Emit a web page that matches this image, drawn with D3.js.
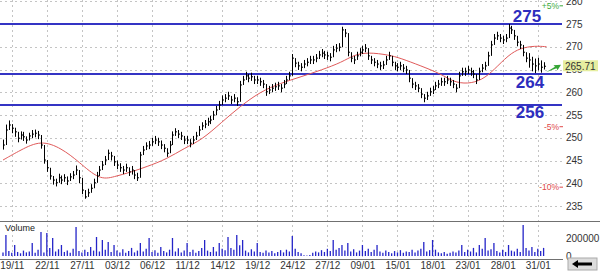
<!DOCTYPE html>
<html>
<head>
<meta charset="utf-8">
<script src="https://cdn.jsdelivr.net/npm/d3@7"></script>
<style>
  body { margin: 0; background: #fff; }
  svg { display: block; font-family: "Liberation Sans", Arial, sans-serif; }
</style>
</head>
<body>
<div id="chart"></div>
<script>
// tick labels under the gridlines
const dates = ["19/11","22/11","27/11","03/12","06/12","11/12","14/12","19/12",
               "24/12","27/12","09/01","15/01","18/01","23/01","28/01","31/01"];

// closing prices, one per bar (open = previous close)
const closes = [
  248.4,251.7,252.8,
  252.1,251.3,249.9,250.6,250.2,249.5,250.4,250.8,251.0,250.6,248.4,245.1,
  243.4,241.6,240.7,240.1,241.2,240.7,241.2,240.5,241.4,241.8,242.9,241.2,
  238.5,237.0,237.9,238.9,240.1,241.6,242.9,244.0,245.1,246.6,246.0,244.7,
  244.0,243.4,242.9,243.4,242.5,242.9,241.8,241.2,246.2,247.3,248.2,248.4,
  249.1,249.5,249.1,248.4,247.7,246.6,248.4,250.6,251.3,250.8,250.4,249.5,
  249.5,248.8,249.5,250.4,251.7,252.6,253.0,253.5,253.9,255.0,256.1,257.2,
  258.3,258.7,259.2,258.3,258.7,257.9,261.6,262.7,263.6,263.1,263.4,262.7,
  262.7,262.3,261.8,260.1,260.5,260.9,261.2,261.4,260.9,261.8,262.7,263.6,
  267.5,266.4,265.8,265.5,266.2,266.6,267.1,267.1,267.5,268.2,268.6,268.2,
  268.0,267.7,269.3,269.7,269.9,273.7,273.0,268.8,267.5,267.1,268.0,268.8,
  269.3,269.7,268.0,267.1,266.6,266.2,265.8,266.0,267.1,268.0,266.6,265.8,
  265.5,265.8,265.3,264.9,263.1,261.8,261.4,260.9,259.6,258.7,259.2,260.1,
  260.5,261.4,261.8,262.3,262.3,262.7,262.3,261.8,260.9,263.6,264.5,264.5,
  264.9,264.5,264.0,262.7,264.5,265.3,265.8,268.0,270.4,271.9,272.4,271.9,
  271.5,271.9,274.1,273.7,272.4,271.0,270.4,268.8,267.5,267.1,266.2,265.8,
  266.2,265.5,265.71
];
const highs = [
  249.6,252.9,253.8,
  253.0,252.2,250.8,251.4,251.3,250.3,251.1,251.7,251.8,251.5,249.9,246.8,
  244.5,242.8,241.6,241.0,242.1,241.7,242.0,241.5,242.2,242.7,243.9,242.2,
  239.8,238.2,238.8,239.8,241.0,242.5,243.8,244.9,246.0,247.4,246.9,245.7,
  245.0,244.4,243.8,244.3,243.5,243.8,242.8,242.3,246.9,248.2,249.0,249.3,
  250.0,250.4,250.0,249.4,248.6,247.6,249.3,251.4,252.1,251.7,251.3,250.4,
  250.4,249.7,250.4,251.3,252.6,253.4,253.9,254.4,254.8,255.9,257.0,258.1,
  259.3,259.6,260.1,259.2,259.6,258.9,262.5,263.6,264.5,264.0,264.3,263.6,
  263.6,263.2,262.7,261.0,261.4,261.8,262.1,262.3,261.8,262.7,263.6,264.5,
  268.4,267.3,266.7,266.4,267.1,267.5,268.0,268.0,268.4,269.1,269.5,269.1,
  268.9,268.6,270.2,270.6,270.8,274.4,273.9,269.7,268.4,268.0,268.9,269.7,
  270.2,270.6,268.9,268.0,267.5,267.1,266.7,266.9,268.0,268.9,267.5,266.7,
  266.4,266.7,266.2,265.8,264.0,262.7,262.3,261.8,260.5,259.6,260.1,261.0,
  261.4,262.3,262.7,263.2,263.2,263.6,263.2,262.7,261.8,264.5,265.4,265.4,
  265.8,265.4,264.9,263.6,265.4,266.2,266.7,268.9,271.3,272.8,273.3,272.8,
  272.4,272.8,275.0,274.6,273.3,271.9,271.3,269.7,268.4,268.6,267.8,267.4,
  267.6,267.0,266.6
];
const lows = [
  247.4,250.6,251.9,
  251.0,250.2,249.0,249.6,249.3,248.7,249.4,249.9,250.1,249.7,247.6,244.3,
  242.5,240.8,239.7,239.3,240.2,239.8,240.3,239.6,240.5,240.9,241.9,240.0,
  237.6,236.6,237.0,238.0,239.2,240.8,242.0,243.1,244.2,245.7,245.0,243.8,
  243.1,242.5,242.0,242.5,241.6,241.9,240.9,240.5,245.0,246.4,247.3,247.5,
  248.2,248.6,248.2,247.5,246.8,245.8,247.5,249.7,250.4,249.9,249.5,248.6,
  248.6,247.9,248.6,249.5,250.8,251.7,252.1,252.6,253.0,254.1,255.2,256.3,
  257.4,257.8,258.3,257.4,257.8,257.0,260.7,261.8,262.7,262.2,262.5,261.8,
  261.8,261.4,260.9,259.2,259.6,260.0,260.3,260.5,260.0,260.9,261.8,262.7,
  266.6,265.5,264.9,264.6,265.3,265.7,266.2,266.2,266.6,267.3,267.7,267.3,
  267.1,266.8,268.4,268.8,269.0,272.6,272.1,267.9,266.6,266.2,267.1,267.9,
  268.4,268.8,267.1,266.2,265.7,265.3,264.9,265.1,266.2,267.1,265.7,264.9,
  264.6,264.9,264.4,264.0,262.2,260.9,260.5,260.0,258.7,257.8,258.3,259.2,
  259.6,260.5,260.9,261.4,261.4,261.8,261.4,260.9,260.0,262.7,263.6,263.6,
  264.0,263.6,263.1,261.8,263.6,264.4,264.9,267.1,269.5,271.0,271.5,271.0,
  270.6,271.0,273.2,272.8,271.5,270.1,269.5,267.9,266.6,265.4,264.6,264.2,
  264.8,264.3,265.0
];

// volume per bar, in thousands
const volumes = [
  40,233,55,35,122,45,30,60,40,50,144,35,
  70,267,40,255,90,200,50,75,122,45,60,35,
  80,322,55,40,70,45,100,60,211,50,178,70,
  155,45,122,60,40,75,35,55,90,40,60,144,
  50,80,200,45,65,35,100,55,40,70,200,50,
  85,40,60,144,45,70,35,55,90,178,60,45,
  100,50,144,80,65,211,90,70,233,120,178,60,
  40,75,50,144,45,35,60,40,55,30,45,65,
  40,70,50,222,80,45,30,8,5,10,35,50,
  40,65,45,80,55,178,70,90,122,60,144,50,
  75,40,60,122,55,80,45,70,122,50,35,60,
  45,30,55,40,65,35,50,45,70,40,60,80,
  155,50,65,178,70,40,30,45,25,35,50,40,
  60,122,45,70,50,90,40,122,80,200,60,75,
  144,55,40,70,45,122,60,50,80,45,344,90,
  60,100,45,80,55,90
];

// moving average, read at some bars
const maIdx = [0,6,13,20,26,33,38,44,49,56,62,68,75,81,88,95,102,109,116,120,125,132,136,143,150,154,159,164,168,173,177,182,186];
const maVal = [245.1,247.3,249.5,247.7,244.7,240.7,241.4,242.5,243.6,245.3,247.7,249.5,253.5,256.8,260.1,262.0,263.4,264.9,266.6,268.2,268.8,268.2,267.5,265.8,264.0,262.3,261.8,262.7,264.9,268.2,269.7,270.2,270.0];

// drawn support / resistance lines
const levels = [275, 264, 257.2];
const levelLabels = ["275", "264", "256"];

// percentage bands from the last price
const pcts = [0.05, -0.05, -0.10];
const pctLabels = ["+5%", "-5%", "-10%"];

const priceTicks = d3.range(235, 281, 5);
const volTicks = [0, 200];

const W = 600, H = 273;
const plotR = 563, sepY = 221, axisY = 259;
const gridIdx = dates.map((d, i) => 3 + i * 12);
const last = closes[closes.length - 1];

const svg = d3.select("#chart").append("svg")
  .attr("width", W).attr("height", H);

const x = d3.scaleLinear().domain([0, 185]).range([3, 543.6]);
const y = d3.scaleLinear().domain([235, 275]).range([206, 24]);
const yv = d3.scaleLinear().domain([0, 200]).range([256, 238]);

// dashed grid
svg.append("g").selectAll("line")
  .data(priceTicks).enter().append("line")
  .attr("x1", 0).attr("x2", plotR)
  .attr("y1", d => Math.round(y(d)) + 0.5).attr("y2", d => Math.round(y(d)) + 0.5)
  .attr("stroke", "#c4c4c4").attr("stroke-dasharray", "2,3");
svg.append("g").selectAll("line")
  .data(gridIdx).enter().append("line")
  .attr("x1", d => Math.round(x(d)) + 0.5).attr("x2", d => Math.round(x(d)) + 0.5)
  .attr("y1", 0).attr("y2", axisY)
  .attr("stroke", "#c4c4c4").attr("stroke-dasharray", "2,3");

// pane frame lines
svg.append("line").attr("x1", 0).attr("x2", W).attr("y1", sepY + 0.5).attr("y2", sepY + 0.5)
  .attr("stroke", "#707070");
svg.append("line").attr("x1", 0).attr("x2", plotR).attr("y1", axisY + 0.5).attr("y2", axisY + 0.5)
  .attr("stroke", "#707070");

// levels
svg.append("g").selectAll("line")
  .data(levels).enter().append("line")
  .attr("x1", 0).attr("x2", 562)
  .attr("y1", d => y(d)).attr("y2", d => y(d))
  .attr("stroke", "#3434c4").attr("stroke-width", 2);

// moving average
const ma = maIdx.map((d, i) => [d, maVal[i]]);
svg.append("path")
  .attr("d", d3.line().x(d => x(d[0])).y(d => y(d[1])).curve(d3.curveBasis)(ma))
  .attr("fill", "none").attr("stroke", "#e05a5a").attr("stroke-width", 1);

// price bars
const bars = svg.append("g").attr("stroke", "#000").attr("stroke-width", 1);
closes.forEach((c, i) => {
  const o = i > 0 ? closes[i - 1] : c;
  const top = Math.max(highs[i], o, c), bot = Math.min(lows[i], o, c);
  const xx = Math.round(x(i)) + 0.5;
  bars.append("line").attr("x1", xx).attr("x2", xx).attr("y1", y(top)).attr("y2", y(bot));
  bars.append("line").attr("x1", xx).attr("x2", xx + 1.5).attr("y1", y(c)).attr("y2", y(c));
});

// volume
svg.append("g").selectAll("line")
  .data(volumes).enter().append("line")
  .attr("x1", (d, i) => x(i)).attr("x2", (d, i) => x(i))
  .attr("y1", yv(0)).attr("y2", d => yv(d))
  .attr("stroke", "#2424c8").attr("stroke-width", 1.3);

svg.append("text").attr("x", 5).attr("y", 231)
  .attr("font-size", 9).attr("fill", "#222").text("Volume");

// axes
function styleAxis(g) {
  g.select(".domain").remove();
  g.selectAll("text").attr("fill", "#333").attr("font-size", 10)
    .attr("font-family", "'Liberation Sans', Arial, sans-serif");
}
svg.append("g").attr("transform", `translate(${plotR},0)`)
  .call(d3.axisRight(y).tickValues(priceTicks).tickSize(0).tickPadding(3))
  .call(styleAxis);
svg.append("g").attr("transform", `translate(${plotR},0)`)
  .call(d3.axisRight(yv).tickValues(volTicks).tickSize(0).tickPadding(3).tickFormat(d => d * 1000))
  .call(styleAxis);
svg.append("g").attr("transform", `translate(0,${axisY})`)
  .call(d3.axisBottom(x).tickValues(gridIdx).tickSize(0).tickPadding(3).tickFormat((d, i) => dates[i]))
  .call(styleAxis);

// level labels
svg.append("g").selectAll("text")
  .data(levels).enter().append("text")
  .attr("x", (d, i) => i === 0 ? 527 : 530)
  .attr("y", (d, i) => i === 0 ? y(d) - 2.5 : y(d) + 13.5)
  .attr("text-anchor", "middle").attr("font-size", 17).attr("font-weight", "bold")
  .attr("fill", "#2d2dbe").text((d, i) => levelLabels[i]);

// percent bands
pcts.forEach((p, i) => {
  const yy = y(last * (1 + p));
  const col = p > 0 ? "#3aaa3a" : "#e04848";
  svg.append("text").attr("x", 559).attr("y", yy + 3).attr("text-anchor", "end")
    .attr("font-size", 8.5).attr("fill", col).text(pctLabels[i]);
  svg.append("line").attr("x1", 559.5).attr("x2", 563).attr("y1", yy).attr("y2", yy)
    .attr("stroke", col);
});

// last price box
const ly = y(last);
svg.append("rect").attr("x", 563).attr("y", ly - 6).attr("width", 35).attr("height", 11)
  .attr("fill", "#e6eea0");
svg.append("text").attr("x", 565).attr("y", ly + 3.5).attr("font-size", 10)
  .attr("fill", "#333").text(last.toFixed(2));
svg.append("path")
  .attr("d", `M546,${ly + 6} L555,${ly + 0.5} L553.5,${ly - 1} L561,${ly - 1.5} L557.5,${ly + 4} L556.5,${ly + 2} Z`)
  .attr("fill", "#35a535");

// scroll button
svg.append("rect").attr("x", 568).attr("y", 258).attr("width", 29).attr("height", 12)
  .attr("fill", "#dcdcdc").attr("stroke", "#aaa");
svg.append("path")
  .attr("d", "M572,264 L578,260 L578,262.5 L592,262.5 L592,265.5 L578,265.5 L578,268 Z")
  .attr("fill", "#000");
</script>
</body>
</html>
